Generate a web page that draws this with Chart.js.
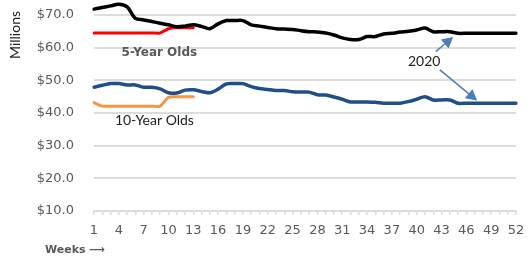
<!DOCTYPE html>
<html>
<head>
<meta charset="utf-8">
<script src="https://cdn.jsdelivr.net/npm/chart.js@4.4.1/dist/chart.umd.min.js"></script>
<style>
  html, body { margin: 0; padding: 0; background: #fff; }
  #wrap { width: 528px; height: 261px; position: relative; }
</style>
</head>
<body>
<div id="wrap"><canvas id="chart"></canvas></div>
<script>
// weeks 1..52
var weeks = [];
for (var i = 1; i <= 52; i++) weeks.push(String(i));

// 5-year olds, 2020 (black)
var fiveYear2020 = [71.8, 72.3, 72.8, 73.3, 72.5, 69.0, 68.5, 68.0, 67.5, 67.0,
  66.4, 66.6, 67.0, 66.5, 65.8, 67.3, 68.3, 68.3, 68.3, 67.0,
  66.6, 66.2, 65.8, 65.7, 65.6, 65.2, 64.9, 64.8, 64.5, 63.9,
  63.0, 62.5, 62.5, 63.4, 63.4, 64.2, 64.4, 64.8, 65.0, 65.4,
  66.0, 64.9, 64.9, 64.9, 64.4, 64.4, 64.4, 64.4, 64.4, 64.4,
  64.4, 64.4];
// 5-year olds, current (red)
var fiveYearNow = [64.5, 64.5, 64.5, 64.5, 64.5, 64.5, 64.5, 64.5, 64.5, 65.8,
  66.1, 66.1, 66.1];
// 10-year olds, 2020 (blue)
var tenYear2020 = [47.9, 48.5, 49.0, 49.0, 48.6, 48.6, 47.9, 47.9, 47.4, 46.2,
  46.1, 47.0, 47.1, 46.6, 46.2, 47.3, 48.9, 49.0, 49.0, 48.1,
  47.5, 47.2, 46.9, 46.9, 46.5, 46.4, 46.4, 45.6, 45.5, 44.9,
  44.2, 43.4, 43.4, 43.4, 43.3, 43.0, 43.0, 43.0, 43.5, 44.2,
  45.0, 44.0, 44.0, 44.0, 43.0, 43.0, 43.0, 43.0, 43.0, 43.0,
  43.0, 43.0];
// 10-year olds, current (orange)
var tenYearNow = [43.2, 42.1, 42.1, 42.1, 42.1, 42.1, 42.1, 42.1, 42.1, 44.8,
  45.0, 45.0, 45.0];

var yTicks = [10, 20, 30, 40, 50, 60, 70];

var grey = '#595959';
var gridGrey = '#dcdcdc';
var arrowBlue = '#4a7ebb';

function drawArrow(ctx, x1, y1, x2, y2) {
  var ang = Math.atan2(y2 - y1, x2 - x1);
  var head = 11, half = 6;
  var bx = x2 - head * Math.cos(ang), by = y2 - head * Math.sin(ang);
  ctx.strokeStyle = arrowBlue;
  ctx.fillStyle = arrowBlue;
  ctx.lineWidth = 1.5;
  ctx.beginPath();
  ctx.moveTo(x1, y1);
  ctx.lineTo(bx, by);
  ctx.stroke();
  ctx.beginPath();
  ctx.moveTo(x2, y2);
  ctx.lineTo(bx + half * Math.sin(ang), by - half * Math.cos(ang));
  ctx.lineTo(bx - half * Math.sin(ang), by + half * Math.cos(ang));
  ctx.closePath();
  ctx.fill();
}

// text labels and arrows, placed in data units
var notes = {
  id: 'notes',
  afterDatasetsDraw: function (chart) {
    var ctx = chart.ctx, xs = chart.scales.x, ys = chart.scales.y;
    function px(w) { return xs.getPixelForValue(w - 1); }
    function py(v) { return ys.getPixelForValue(v); }
    ctx.save();
    ctx.textAlign = 'center';
    ctx.textBaseline = 'middle';

    ctx.font = 'bold 12px "DejaVu Sans"';
    ctx.fillStyle = grey;
    ctx.fillText('5-Year Olds', px(8.9), py(58.3));

    ctx.font = '14px Lato';
    ctx.fillStyle = '#222';
    ctx.fillText('10-Year Olds', px(8.3), py(37.6));
    ctx.fillText('2020', px(40.9), py(55.9));

    drawArrow(ctx, px(42.3), py(58.8), px(44.4), py(63.3));
    drawArrow(ctx, px(42.8), py(53.2), px(47.3), py(43.8));

    // axis captions
    ctx.fillStyle = '#222';
    ctx.save();
    ctx.translate(15, 35);
    ctx.rotate(-Math.PI / 2);
    ctx.fillText('Millions', 0, 0);
    ctx.restore();

    ctx.font = 'bold 11px "DejaVu Sans"';
    ctx.fillStyle = grey;
    ctx.textAlign = 'left';
    ctx.fillText('Weeks \u27F6', 45, 250);
    ctx.restore();
  }
};

new Chart(document.getElementById('chart'), {
  type: 'line',
  data: {
    labels: weeks,
    datasets: [
      { label: '5-Year Olds 2020', data: fiveYear2020, borderColor: '#000000', borderWidth: 3.5 },
      { label: '5-Year Olds', data: fiveYearNow, borderColor: '#ff0000', borderWidth: 3 },
      { label: '10-Year Olds 2020', data: tenYear2020, borderColor: '#1f4e89', borderWidth: 3.5 },
      { label: '10-Year Olds', data: tenYearNow, borderColor: '#f79646', borderWidth: 3 }
    ]
  },
  options: {
    responsive: true,
    maintainAspectRatio: false,
    animation: false,
    layout: { padding: { left: 0, right: 12, top: 0, bottom: 0 } },
    elements: {
      point: { radius: 0 },
      line: { tension: 0.3, borderCapStyle: 'round', borderJoinStyle: 'round', fill: false }
    },
    plugins: {
      legend: { display: false },
      tooltip: { enabled: false }
    },
    scales: {
      x: {
        offset: false,
        afterFit: function (s) { s.height = 50; s.paddingLeft = 0; s.paddingRight = 0; },
        grid: { drawOnChartArea: false, drawTicks: true, tickLength: 4, color: gridGrey, lineWidth: 1.5 },
        border: { display: true, color: gridGrey, width: 2 },
        ticks: {
          autoSkip: false,
          maxRotation: 0,
          padding: 8,
          color: grey,
          font: { family: 'DejaVu Sans', size: 13 },
          callback: function (v, i) { return i % 3 === 0 ? weeks[i] : ''; }
        }
      },
      y: {
        min: 10,
        max: 74.6,
        afterFit: function (s) { s.width = 94; s.paddingTop = 0; s.paddingBottom = 0; },
        afterBuildTicks: function (s) { s.ticks = yTicks.map(function (v) { return { value: v }; }); },
        grid: { drawTicks: false, color: gridGrey, lineWidth: 2 },
        border: { display: false },
        ticks: {
          padding: 20,
          color: grey,
          font: { family: 'DejaVu Sans', size: 13 },
          callback: function (v) { return '$' + Number(v).toFixed(1); }
        }
      }
    }
  },
  plugins: [notes]
});
</script>
</body>
</html>
